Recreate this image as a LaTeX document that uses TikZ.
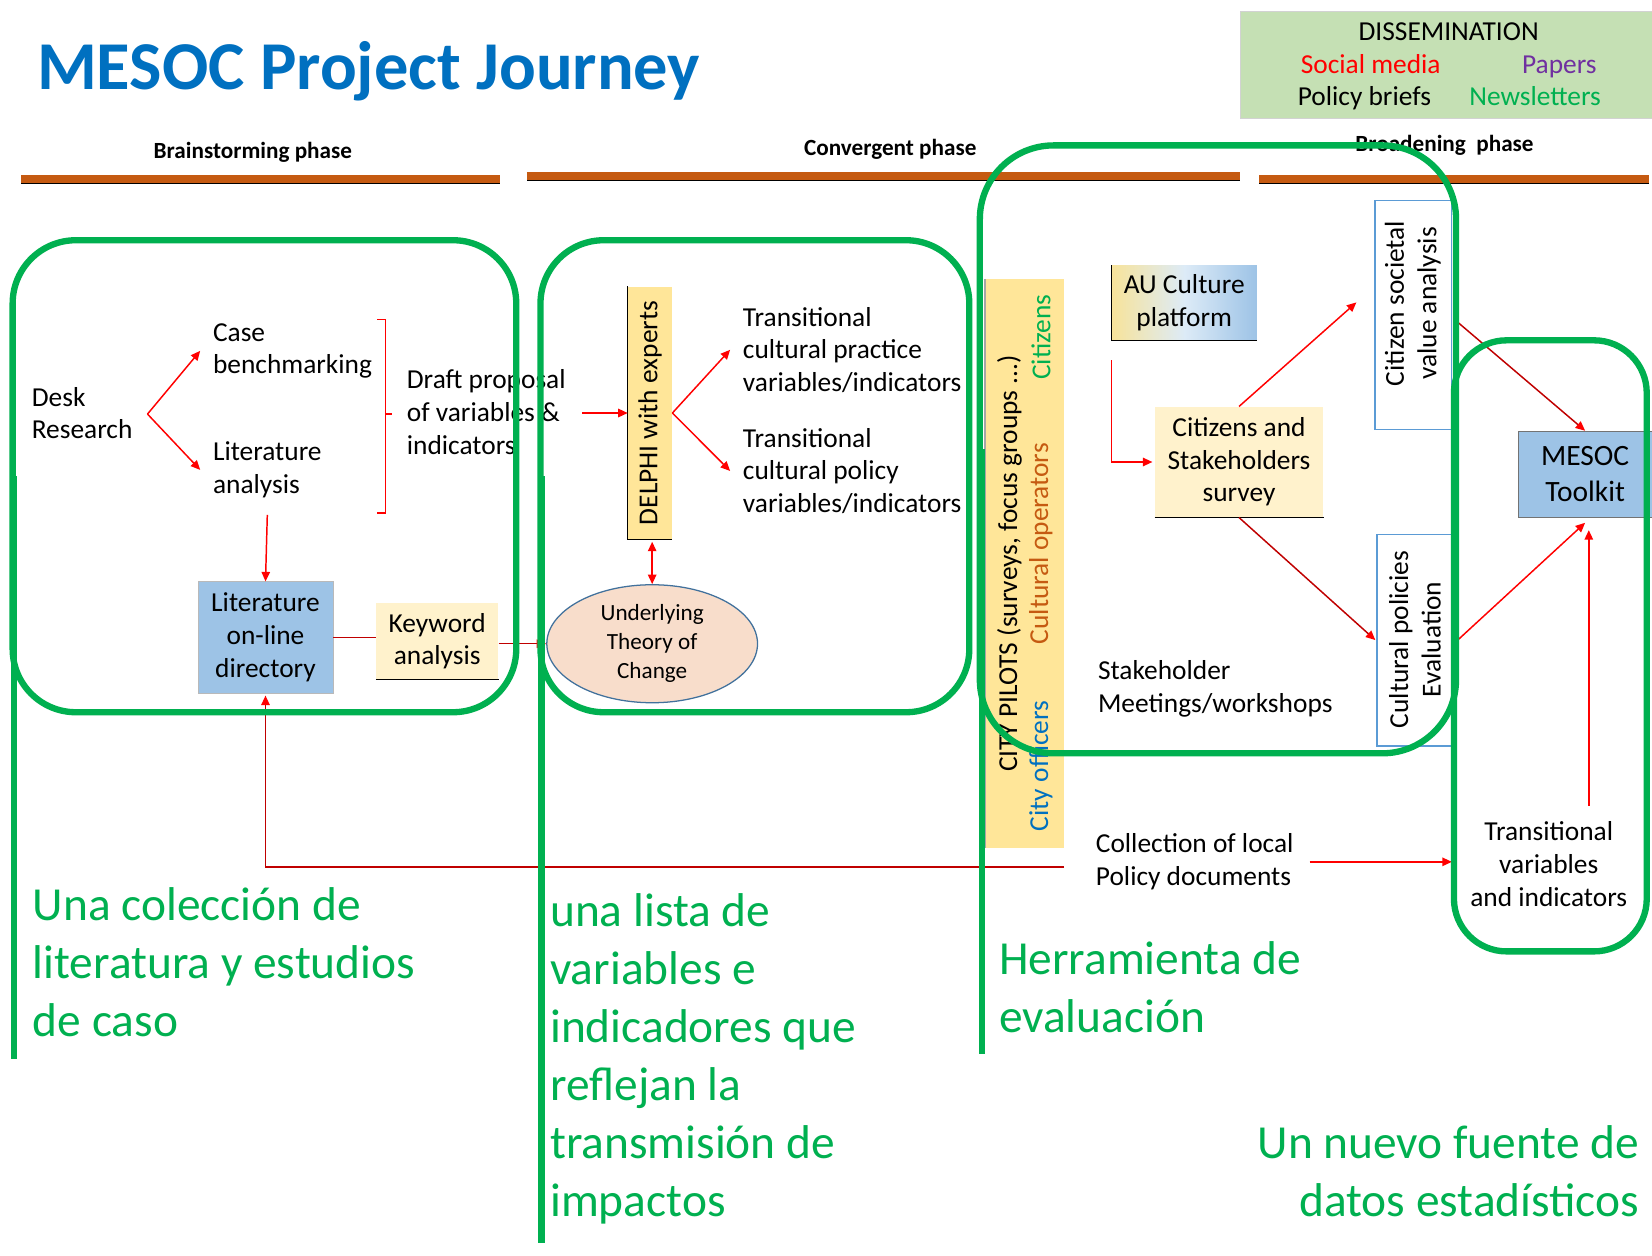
\documentclass[tikz,border=0pt]{standalone}
\usepackage{fontspec}
\setmainfont{Carlito}
\usetikzlibrary{arrows.meta,shapes.geometric}
\definecolor{mgreen}{HTML}{00B050}
\definecolor{tblue}{HTML}{0070C0}
\definecolor{oline}{HTML}{C55A11}
\definecolor{dgreen}{HTML}{C5E0B4}
\definecolor{ppl}{HTML}{7030A0}
\definecolor{lblue}{HTML}{9DC3E6}
\definecolor{lyel}{HTML}{FFF2CC}
\definecolor{yel}{HTML}{FFE699}
\definecolor{peach}{HTML}{F8DDCB}
\definecolor{ellb}{HTML}{41719C}
\definecolor{dred}{HTML}{C00000}
\definecolor{bbox}{HTML}{5B9BD5}
\definecolor{aumid}{HTML}{DDEBF7}
\definecolor{auleft}{HTML}{F7E39A}
\begin{document}
\begin{tikzpicture}[x=1pt,y=-1pt,
  f26/.style={font=\fontsize{26}{31}\selectfont},
  tx/.style={f26, inner sep=0pt, align=left, anchor=west},
  ctx/.style={f26, inner sep=0pt, align=center},
  hdr/.style={font=\fontsize{22}{26}\selectfont\bfseries, inner sep=0pt, anchor=base},
  big/.style={font=\fontsize{45}{55}\selectfont, text=mgreen, inner sep=0pt, align=left, anchor=west},
  gbox/.style={draw=mgreen, line width=6pt, rounded corners=60pt, inner sep=0pt},
  gline/.style={draw=mgreen, line width=6pt},
  arr/.style={draw=red, line width=1.4pt, -{Triangle[length=9pt,width=8pt,color=red]}},
  darr/.style={draw=dred, line width=1.4pt, -{Triangle[length=9pt,width=8pt,color=red]}},
  orl/.style={draw=oline, line width=7pt},
  shd/.style={draw=black, line width=1.3pt},
  rtx/.style={f26, rotate=90, inner sep=0pt},
]
\useasboundingbox (0,0) rectangle (1568,1192);
\fill[white] (0,0) rectangle (1568,1192);

% title
\node[anchor=base west, inner sep=0pt, text=tblue, font=\fontsize{65}{78}\selectfont\bfseries] (title) at (35,85) {MESOC Project Journey};

% dissemination
\node[fill=dgreen, draw=gray!35, minimum width=391pt, minimum height=102pt, anchor=north west, inner sep=0pt] (diss) at (1177,10) {};
\node[f26, inner sep=0pt, anchor=base] (dissT) at (1375,38.5) {DISSEMINATION};
\node[f26, inner sep=0pt, anchor=base, text=red] (sm) at (1301,69.5) {Social media};
\node[f26, inner sep=0pt, anchor=base, text=ppl] (pap) at (1480,69.5) {Papers};
\node[f26, inner sep=0pt, anchor=base] (pb) at (1295,100.5) {Policy briefs};
\node[f26, inner sep=0pt, anchor=base, text=mgreen] (nl) at (1457,100.5) {Newsletters};

% phases
\node[hdr] (ph1) at (240,150) {Brainstorming phase};
\node[hdr] (ph2) at (845,148) {Convergent phase};
\node[hdr] (ph3) at (1371,144) {Broadening\ \ phase};
\draw[shd] (20,174) -- (475,174); \draw[orl] (20,170) -- (475,170);
\draw[shd] (500,171) -- (1177,171); \draw[orl] (500,167) -- (1177,167);
\draw[shd] (1195,174) -- (1565,174); \draw[orl] (1195,170) -- (1565,170);

% brainstorming block
\node[tx] (desk) at (30,392) {Desk\\Research};
\node[tx] (case) at (202,333) {Case\\benchmarking};
\node[tx] (lita) at (202,446) {Literature\\analysis};
\node[tx] (draft) at (386,391) {Draft proposal\\of variables \&\\indicators};
\coordinate (dsplit) at (140,393);
\draw[arr] (dsplit) -- ([xshift=-12pt]case.west);
\draw[arr] (dsplit) -- ([xshift=-12pt]lita.west);
\coordinate (brt) at (366,303);
\coordinate (brb) at (366,487);
\coordinate (brm) at (366,393);
\draw[red, line width=1.3pt] ([xshift=-8pt]brt) -- (brt) -- (brb) -- ([xshift=-8pt]brb);
\draw[red, line width=1.3pt] (brm) -- ([xshift=6pt]brm);

\node[ctx, fill=lblue, draw=gray!55, minimum width=128pt, minimum height=106pt] (litdir) at (252,605) {Literature\\on-line\\directory};
\node[ctx, fill=lyel, minimum width=116pt, minimum height=73pt] (kw) at (415,608.5) {Keyword\\analysis};
\draw[shd] (kw.south west) -- (kw.south east);
\draw[arr] ([yshift=-16pt]lita.south) -- (litdir.north);
\draw[dred, line width=1.4pt] (litdir.east) -- (litdir.east -| kw.west);

% convergent block
\node[fill=yel, minimum width=42pt, minimum height=240pt, inner sep=0pt] (delphi) at (617,392) {\rotatebox{90}{\fontsize{26}{31}\selectfont DELPHI with experts}};
\draw[shd] (delphi.north west) -- (delphi.south west) -- (delphi.south east);
\draw[arr] ([xshift=-43pt]delphi.west) -- (delphi.west);
\node[tx] (tprac) at (705,332) {Transitional\\cultural practice\\variables/indicators};
\node[tx] (tpol) at (705,447) {Transitional\\cultural policy\\variables/indicators};
\draw[arr] (delphi.east) -- ([xshift=-12pt]tprac.west);
\draw[arr] (delphi.east) -- ([xshift=-12pt]tpol.west);
\node[ellipse, draw=ellb, line width=1.2pt, fill=peach, minimum width=200pt, minimum height=112pt, inner sep=0pt, align=center, font=\fontsize{22}{27.5}\selectfont] (toc) at (619,611) {Underlying\\Theory of\\Change};
\draw[red, line width=1.4pt, {Triangle[length=9pt,width=8pt]}-{Triangle[length=9pt,width=8pt]}] ([yshift=-2pt]delphi.south -| toc.north) -- (toc.north);
\draw[darr] (kw.east |- toc.west) -- (toc.west);

% broadening block
\node[fill=yel, minimum width=75pt, minimum height=540pt, inner sep=0pt] (city) at (972.5,535) {};
\draw[gray!70, line width=1.2pt] (city.north west) -- (city.south west);
\node[rtx] (cityA) at (958,535) {CITY PILOTS (surveys, focus groups ...)};
\node[rtx, text=tblue] (cityO) at (988,727) {City officers};
\node[rtx, text=oline] (cityC) at (988,516) {Cultural operators};
\node[rtx, text=mgreen] (cityZ) at (988,320) {Citizens};

\node[ctx, left color=auleft, right color=lblue, middle color=aumid, minimum width=138pt, minimum height=71pt] (au) at (1124,287.5) {AU Culture\\platform};
\draw[shd] (au.north west) -- (au.south west) -- (au.south east);
\node[ctx, fill=lyel, minimum width=160pt, minimum height=105pt] (survey) at (1176,438.5) {Citizens and\\Stakeholders\\survey};
\draw[shd] (survey.south west) -- (survey.south east);
\coordinate (auL) at (1055,342);
\draw[arr] (auL) -- (auL |- survey.west) -- ([xshift=-2pt]survey.west);

\node[draw=bbox, line width=1.2pt, fill=white, minimum width=73pt, minimum height=218pt, inner sep=0pt] (cit) at (1341.5,299) {};
\node[rtx, align=center] (citT) at (1341,288) {Citizen societal\\value analysis};
\node[draw=bbox, line width=1.2pt, fill=white, minimum width=71pt, minimum height=201pt, inner sep=0pt] (cul) at (1342.5,607.5) {};
\node[rtx, align=center] (culT) at (1343,607) {Cultural policies\\Evaluation};
\draw[arr] (survey.north) -- ([xshift=-17pt,yshift=12pt]cit.west);
\draw[darr] (survey.south) -- ([xshift=-1pt]cul.west);

\node[tx] (stake) at (1042,654) {Stakeholder\\Meetings/workshops};
\node[tx] (coll) at (1040,818) {Collection of local\\Policy documents};
\node[ctx] (tvar) at (1470,820) {Transitional\\variables\\and indicators};

\node[fill=lblue, draw=black!55, minimum width=127pt, minimum height=82pt, inner sep=0pt, align=center, font=\fontsize{28}{34}\selectfont] (mesoc) at (1504.5,450) {MESOC\\Toolkit};
\draw[darr] ([xshift=4pt,yshift=-6pt]cit.east) -- (mesoc.north);
\draw[arr] ([xshift=5pt]cul.east) -- ([yshift=-5pt]mesoc.south);
\coordinate (tvtop) at (1508,765);
\draw[arr] (tvtop) -- ([yshift=-12pt]mesoc.south -| tvtop);
\coordinate (tvin) at (1378,818);
\draw[arr] ([xshift=15pt]coll.east |- tvin) -- (tvin);

% loop back to literature directory
\coordinate (collL) at (1010,823);
\draw[darr] (collL) -- (collL -| litdir.south) -- ([yshift=-2pt]litdir.south);

% green groups
\node[gbox, minimum width=478pt, minimum height=448pt] (g1) at (251,452) {};
\node[gbox, minimum width=407pt, minimum height=448pt] (g2) at (716.5,452) {};
\node[gbox, rounded corners=70pt, minimum width=452pt, minimum height=577pt] (g3) at (1156,426.5) {};
\node[gbox, rounded corners=50pt, minimum width=183pt, minimum height=580pt] (g4) at (1471.5,613) {};
\coordinate (g1end) at (13,1005);
\coordinate (g2end) at (514,1180);
\coordinate (g3end) at (932,1000);
\draw[gline] ([xshift=4pt]g1.west) -- ([xshift=4pt]g1.west |- g1end);
\draw[gline] ([xshift=4pt]g2.west) -- ([xshift=4pt]g2.west |- g2end);
\draw[gline] ([xshift=5pt]g3.west) -- ([xshift=5pt]g3.west |- g3end);

% green captions
\node[big] (gt1) at (31,913) {Una colección de\\literatura y estudios\\de caso};
\node[big] (gt2) at (522,1005) {una lista de\\variables e\\indicadores que\\reflejan la\\transmisión de\\impactos};
\node[big] (gt3) at (948,937) {Herramienta de\\evaluación};
\node[big, anchor=east, align=right] (gt4) at (1556,1112) {Un nuevo fuente de\\datos estadísticos};
\end{tikzpicture}
\end{document}
